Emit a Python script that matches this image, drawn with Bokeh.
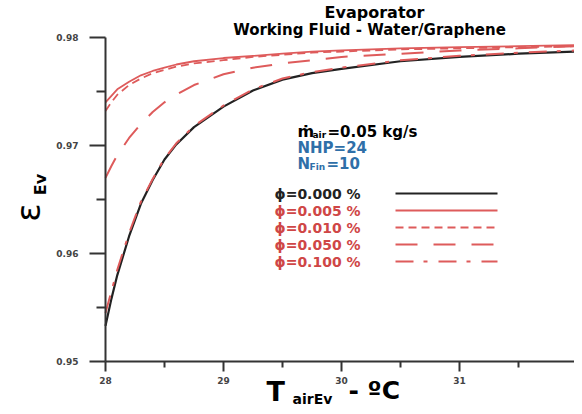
import math
from bokeh.plotting import figure
from bokeh.models import Range1d, FixedTicker, Label
from bokeh.embed import file_html
from bokeh.resources import INLINE

# ---------------- data ----------------
t_air = [28.0, 28.05, 28.1, 28.2, 28.3, 28.4, 28.5, 28.6, 28.75, 29.0,
         29.25, 29.5, 29.75, 30.0, 30.5, 31.0, 31.5, 32.0]
eps_phi_0000 = [0.9533, 0.9558, 0.9580, 0.9616, 0.9646, 0.9668, 0.9687, 0.9701, 0.9717, 0.9736,
                0.9751, 0.9761, 0.9767, 0.9771, 0.9778, 0.9782, 0.9785, 0.9787]
eps_phi_0005 = [0.9740, 0.9746, 0.9752, 0.9759, 0.9765, 0.9769, 0.9772, 0.9775, 0.9778, 0.9781,
                0.9783, 0.9785, 0.9787, 0.9788, 0.9790, 0.9791, 0.9792, 0.9793]
eps_phi_0010 = [0.9732, 0.9740, 0.9747, 0.9756, 0.9762, 0.9767, 0.9770, 0.9773, 0.9776, 0.9779,
                0.9782, 0.9784, 0.9786, 0.9787, 0.9789, 0.9790, 0.9791, 0.9792]
eps_phi_0050 = [0.9670, 0.9681, 0.9691, 0.9707, 0.9720, 0.9731, 0.9740, 0.9747, 0.9756, 0.9766,
                0.9772, 0.9776, 0.9779, 0.9782, 0.9785, 0.9788, 0.9790, 0.9792]
eps_phi_0100 = [0.9545, 0.9565, 0.9585, 0.9619, 0.9648, 0.9669, 0.9688, 0.9702, 0.9718, 0.9737,
                0.9752, 0.9762, 0.9768, 0.9772, 0.9779, 0.9783, 0.9786, 0.9788]
phi_labels = ["ϕ=0.000 %", "ϕ=0.005 %", "ϕ=0.010 %", "ϕ=0.050 %", "ϕ=0.100 %"]
x_ticks = [28, 29, 30, 31, 32]
x_minor = [28.5, 29.5, 30.5, 31.5]
y_ticks = [0.95, 0.96, 0.97, 0.98]
y_minor = [0.955, 0.965, 0.975]

# ---------------- styles / layout ----------------
BLACK = "#222222"
RED = "#de5b5b"
RED_TXT = "#cf4646"
BLUE = "#2f6fa8"
FONT = "DejaVu Sans"
W, H = 574, 406
X0_PX, X_PER = 105, 118.0      # pixel of x=28, pixels per unit
Y0_PX, Y_PER = 37, 10800.0     # pixel of y=0.98, pixels per unit

def dx(px):
    return 28 + (px - X0_PX) / X_PER

def dy(py):
    return 0.98 - (py - Y0_PX) / Y_PER

series = [
    (eps_phi_0000, BLACK, "solid", 2.2),
    (eps_phi_0005, RED, "solid", 1.8),
    (eps_phi_0010, RED, "8 5", 1.8),
    (eps_phi_0050, RED, "22 16", 2.0),
    (eps_phi_0100, RED, "18 10 4 11", 2.0),
]

p = figure(width=W, height=H, output_backend="svg", toolbar_location=None,
           x_range=Range1d(dx(0), dx(W)), y_range=Range1d(dy(H), dy(0)),
           min_border=0, min_border_left=0, min_border_right=0,
           min_border_top=0, min_border_bottom=0)
p.outline_line_color = None
p.xgrid.visible = False
p.ygrid.visible = False

for ys, col, dash, w in series:
    p.line(t_air, ys, line_color=col, line_dash=dash, line_width=w)

# axes drawn at fixed positions inside the frame
p.xaxis.fixed_location = 0.95
p.yaxis.fixed_location = 28
p.xaxis.bounds = (28, 32)
p.yaxis.bounds = (0.95, 0.98)
for ax in (p.xaxis[0], p.yaxis[0]):
    ax.axis_line_width = 2
    ax.axis_line_color = "#333333"
    ax.major_tick_line_color = "#333333"
    ax.minor_tick_line_color = "#333333"
    ax.major_tick_line_width = 2
    ax.minor_tick_line_width = 2
    ax.major_tick_in = 0
    ax.minor_tick_in = 0
    ax.major_label_text_font = FONT
    ax.major_label_text_font_size = "9px"
    ax.major_label_text_color = "#444444"
    ax.major_label_text_font_style = "bold"

p.xaxis.ticker = FixedTicker(ticks=x_ticks, minor_ticks=x_minor)
p.yaxis.ticker = FixedTicker(ticks=y_ticks, minor_ticks=y_minor)
p.xaxis.major_tick_out = 10
p.xaxis.minor_tick_out = 6
p.yaxis.major_tick_out = 16
p.yaxis.minor_tick_out = 9
p.yaxis.major_label_standoff = 11
p.xaxis.major_label_standoff = 5


def lab(px, py, text, size, color="black", style="bold", align="left", baseline="middle", angle=0.0):
    p.add_layout(Label(x=dx(px), y=dy(py), text=text, text_font=FONT, text_font_size=size,
                       text_color=color, text_font_style=style, text_align=align,
                       text_baseline=baseline, angle=angle))

# titles
lab(374, 12, "Evaporator", "16px", align="center")
lab(369, 29, "Working Fluid - Water/Graphene", "15px", align="center")

# y axis label
lab(27, 212, "ε", "34px", style="normal", align="center", angle=math.pi / 2)
lab(40, 184, "Ev", "16px", style="bold", align="center", angle=math.pi / 2)

# x axis label
lab(266, 391, "T", "27px")
lab(292, 398, "airEv", "14px")
lab(348, 390, "- ºC", "25px")

# parameter annotations
lab(297, 131, "ṁ", "16px")
lab(312, 134, "air", "9px")
lab(327, 131, "=0.05 kg/s", "15px")
lab(297, 147, "NHP=24", "15px", color=BLUE)
lab(297, 163, "N", "15px", color=BLUE)
lab(309, 166, "Fin", "9px", color=BLUE)
lab(326, 163, "=10", "15px", color=BLUE)

# legend key
rows_py = [193, 210, 227, 244, 261]
for i, (ys, col, dash, w) in enumerate(series):
    lab(274, rows_py[i], phi_labels[i], "14px", color=(BLACK if i == 0 else RED_TXT))
    p.line([dx(395), dx(497)], [dy(rows_py[i])] * 2, line_color=col, line_dash=dash, line_width=w)

open("out.html", "w").write(file_html(p, INLINE))
